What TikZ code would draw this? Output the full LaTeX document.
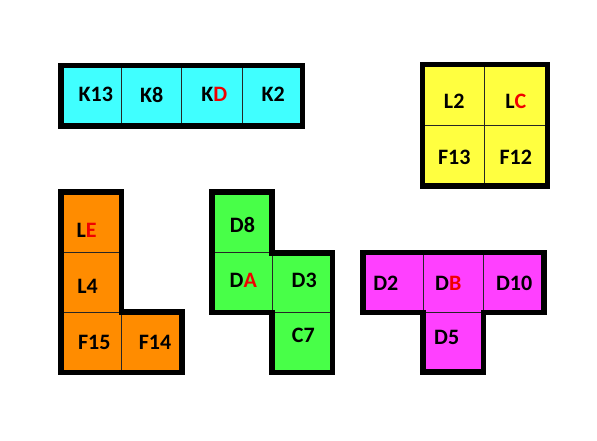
\documentclass[tikz,border=0pt]{standalone}
\usepackage{fontspec}
\setmainfont{Carlito}
\definecolor{pcyan}{RGB}{64,255,255}
\definecolor{pyellow}{RGB}{255,255,64}
\definecolor{porange}{RGB}{255,140,0}
\definecolor{pgreen}{RGB}{72,255,72}
\definecolor{pmag}{RGB}{255,64,255}
\definecolor{pred}{RGB}{240,0,0}
\tikzset{
  cellline/.style={draw=black!85, line width=1pt},
  outline/.style={draw=black, line width=5.5pt, line join=miter},
  lbl/.style={font=\fontsize{22}{22}\selectfont\bfseries, inner sep=0pt, text=black},
}
\newcommand{\rl}[1]{\textcolor{pred}{#1}}
\begin{document}
\begin{tikzpicture}[x=1pt,y=-1pt]
\useasboundingbox (0,0) rectangle (597,441);
\fill[white] (0,0) rectangle (597,441);
% cyan
\foreach \a/\b in {61/121.3,121.3/181.7,181.7/242,242/302.5}
  \draw[cellline,fill=pcyan] (\a,65.3) rectangle (\b,126);
\draw[outline] (61,65.3) rectangle (302.5,126);
\node[lbl] (k13) at (95.8,94.5) {K13};
\node[lbl] (k8) at (151.7,94.5) {K8};
\node[lbl] (kd) at (214.2,94.5) {K\rl{D}};
\node[lbl] (k2) at (273.3,94.5) {K2};
% yellow
\foreach \a/\b in {422.5/484,484/547.5}
  \foreach \c/\d in {64.7/126,126/186}
    \draw[cellline,fill=pyellow] (\a,\c) rectangle (\b,\d);
\draw[outline] (422.5,64.7) rectangle (547.5,186);
\node[lbl] (l2) at (454.2,101) {L2};
\node[lbl] (lc) at (515.8,101) {L\rl{C}};
\node[lbl] (f13) at (454.2,157) {F13};
\node[lbl] (f12) at (515.8,157) {F12};
% orange
\draw[cellline,fill=porange] (61,192) rectangle (121.5,252);
\draw[cellline,fill=porange] (61,252) rectangle (121.5,312);
\draw[cellline,fill=porange] (61,312) rectangle (121.5,372.5);
\draw[cellline,fill=porange] (121.5,312) rectangle (182,372.5);
\draw[outline] (61,192) -- (121.5,192) -- (121.5,312) -- (182,312) -- (182,372.5) -- (61,372.5) -- cycle;
\node[lbl] (le) at (86.7,230.8) {L\rl{E}};
\node[lbl] (l4) at (87.5,286.7) {L4};
\node[lbl] (f15) at (94.2,342.5) {F15};
\node[lbl] (f14) at (155,342.5) {F14};
% green
\draw[cellline,fill=pgreen] (212,192) rectangle (272,252);
\draw[cellline,fill=pgreen] (212,252) rectangle (272,312.5);
\draw[cellline,fill=pgreen] (272,253) rectangle (332.5,312.5);
\draw[cellline,fill=pgreen] (272,312.5) rectangle (332.5,372.5);
\draw[outline] (212,192) -- (272,192) -- (272,253) -- (332.5,253) -- (332.5,372.5) -- (272,372.5) -- (272,312.5) -- (212,312.5) -- cycle;
\node[lbl] (d8) at (242.5,225) {D8};
\node[lbl] (da) at (243.3,280.8) {D\rl{A}};
\node[lbl] (d3) at (304.2,280.8) {D3};
\node[lbl] (c7) at (303.3,335.8) {C7};
% magenta
\foreach \a/\b in {363/423,423/483.5,483.5/544}
  \draw[cellline,fill=pmag] (\a,252.5) rectangle (\b,312.5);
\draw[cellline,fill=pmag] (423,312.5) rectangle (483.5,372);
\draw[outline] (363,252.5) -- (544,252.5) -- (544,312.5) -- (483.5,312.5) -- (483.5,372) -- (423,372) -- (423,312.5) -- (363,312.5) -- cycle;
\node[lbl] (d2) at (385.8,283.3) {D2};
\node[lbl] (db) at (448.3,283.3) {D\rl{B}};
\node[lbl] (d10) at (514.2,283.3) {D10};
\node[lbl] (d5) at (446.7,337) {D5};
\end{tikzpicture}
\end{document}
